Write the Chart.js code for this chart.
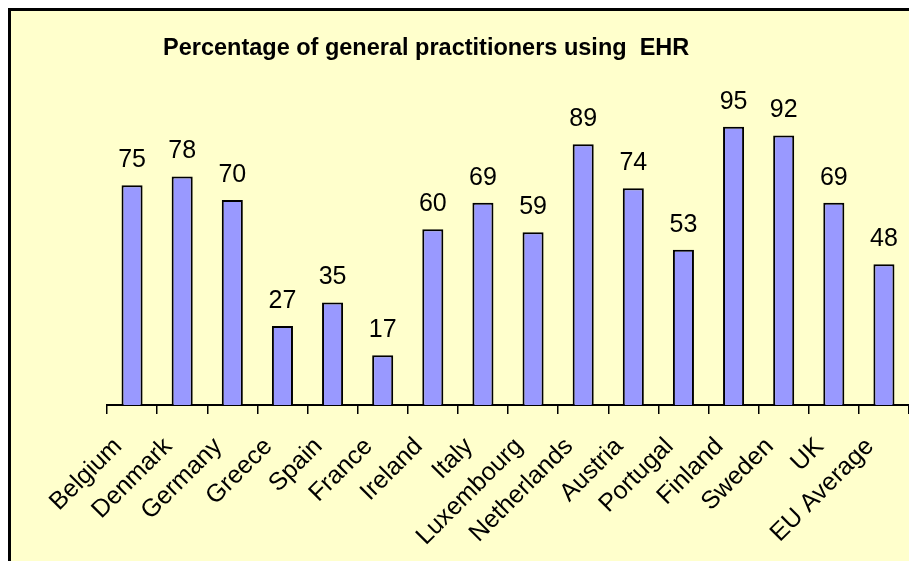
<!DOCTYPE html>
<html>
<head>
<meta charset="utf-8">
<title>GP EHR usage</title>
<script src="https://cdn.jsdelivr.net/npm/chart.js@4.4.1/dist/chart.umd.min.js"></script>
<style>
    html, body { margin: 0; padding: 0; background: #fff; overflow: hidden; }
    .frame {
        position: absolute; left: 8px; top: 8px;
        width: 1000px; height: 700px;
        border: 3px solid #000; background: #FFFFCC;
    }
    #ehrChart { position: absolute; left: 0; top: 0; }
</style>
</head>
<body>
<div class="frame"></div>
<canvas id="ehrChart" width="909" height="561"></canvas>
<script>
const chartTitle = 'Percentage of general practitioners using  EHR';
const countries = ['Belgium', 'Denmark', 'Germany', 'Greece', 'Spain', 'France', 'Ireland', 'Italy',
    'Luxembourg', 'Netherlands', 'Austria', 'Portugal', 'Finland', 'Sweden', 'UK', 'EU Average'];
const ehrUsage = [75, 78, 70, 27, 35, 17, 60, 69, 59, 89, 74, 53, 95, 92, 69, 48];
const yRange = [0, 100];

const FONT = '"Liberation Sans", Arial, sans-serif';

// numbers above the bars, placed from the bar elements
const valueLabels = {
    id: 'valueLabels',
    afterDatasetsDraw(chart) {
        const ctx = chart.ctx;
        const meta = chart.getDatasetMeta(0);
        ctx.save();
        ctx.font = `25px ${FONT}`;
        ctx.fillStyle = '#000';
        ctx.textAlign = 'center';
        ctx.textBaseline = 'alphabetic';
        meta.data.forEach((bar, i) => {
            ctx.fillText(String(ehrUsage[i]), bar.x, bar.y - 18);
        });
        ctx.restore();
    }
};

// title sits left of centre in the original, so draw it ourselves
const offsetTitle = {
    id: 'offsetTitle',
    afterDraw(chart) {
        const ctx = chart.ctx;
        ctx.save();
        ctx.font = `bold 23.5px ${FONT}`;
        ctx.fillStyle = '#000';
        ctx.textAlign = 'left';
        ctx.textBaseline = 'alphabetic';
        ctx.fillText(chartTitle, 163, 55);
        ctx.restore();
    }
};

Chart.defaults.font.family = FONT;

const ctx = document.getElementById('ehrChart').getContext('2d');
new Chart(ctx, {
    type: 'bar',
    data: {
        labels: countries,
        datasets: [{
            data: ehrUsage,
            backgroundColor: '#9999FF',
            borderColor: '#000',
            borderWidth: 2,
            barPercentage: 0.42,
            categoryPercentage: 1.0
        }]
    },
    options: {
        responsive: false,
        animation: false,
        layout: { padding: { left: 107, right: 0, top: 112, bottom: 0 } },
        plugins: {
            legend: { display: false },
            tooltip: { enabled: false }
        },
        scales: {
            y: { display: false, min: yRange[0], max: yRange[1] },
            x: {
                grid: { drawOnChartArea: false, drawTicks: true, tickLength: 9, color: '#000', lineWidth: 1.5 },
                border: { display: true, color: '#000', width: 2 },
                ticks: {
                    color: '#000',
                    font: { size: 25 },
                    minRotation: 45,
                    maxRotation: 45,
                    autoSkip: false,
                    padding: 18,
                    labelOffset: -14
                },
                afterFit(scale) {
                    // fixed axis band; axis runs right up to the window edge
                    scale.height = 156;
                    scale.paddingRight = 0;
                }
            }
        }
    },
    plugins: [valueLabels, offsetTitle]
});
</script>
</body>
</html>
